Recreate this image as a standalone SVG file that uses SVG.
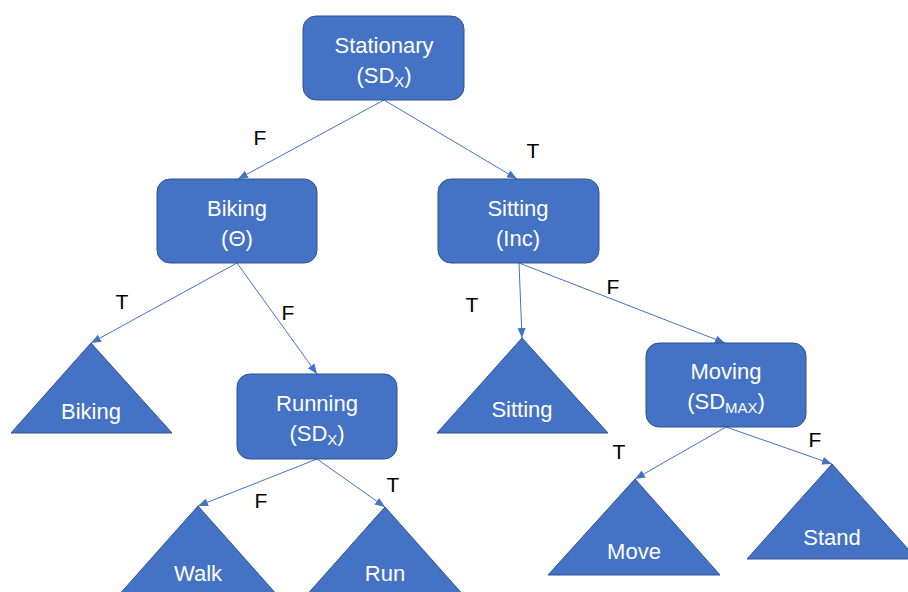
<svg xmlns="http://www.w3.org/2000/svg" width="908" height="592" viewBox="0 0 908 592">
<style>
.box{fill:#4472C4;stroke:#2F528F;stroke-width:1}
.tri{fill:#4472C4;stroke:#2F528F;stroke-width:1}
.nt{fill:#FFFFFF;font-family:"Liberation Sans",Arial,sans-serif;font-size:22px;text-anchor:middle}
.lb{fill:#000000;font-family:"Liberation Sans",Arial,sans-serif;font-size:21px;text-anchor:middle}
.sub{font-size:15px}
.edge{stroke:#4472C4;stroke-width:1;fill:none;marker-end:url(#arr)}
</style>
<defs>
<marker id="arr" markerUnits="userSpaceOnUse" markerWidth="10" markerHeight="10" viewBox="0 0 10 10" refX="10" refY="5" orient="auto">
<path d="M0,1 L10,5 L0,9 Z" fill="#4472C4"/>
</marker>
</defs>
<rect width="908" height="592" fill="#FFFFFF"/>
<g id="connectors">
<line class="edge" x1="384" y1="100" x2="238" y2="179"/>
<line class="edge" x1="384" y1="100" x2="517" y2="179"/>
<line class="edge" x1="237" y1="263" x2="91" y2="343"/>
<line class="edge" x1="237" y1="263" x2="317" y2="374"/>
<line class="edge" x1="519" y1="263" x2="522" y2="338"/>
<line class="edge" x1="519" y1="263" x2="725" y2="343"/>
<line class="edge" x1="317" y1="459" x2="198" y2="506"/>
<line class="edge" x1="317" y1="459" x2="385" y2="507"/>
<line class="edge" x1="726" y1="427" x2="635" y2="479"/>
<line class="edge" x1="726" y1="427" x2="832" y2="464"/>
</g>
<g id="edge-labels">
<text class="lb" x="260" y="145">F</text>
<text class="lb" x="533" y="158">T</text>
<text class="lb" x="122" y="309">T</text>
<text class="lb" x="288" y="320">F</text>
<text class="lb" x="472" y="312">T</text>
<text class="lb" x="613" y="294">F</text>
<text class="lb" x="261" y="508">F</text>
<text class="lb" x="393" y="492">T</text>
<text class="lb" x="619" y="459">T</text>
<text class="lb" x="815" y="447">F</text>
</g>
<g id="stationary">
<rect class="box" x="303" y="16" width="161" height="84" rx="13"/>
<text class="nt" x="384" y="53">Stationary</text>
<text class="nt" x="384" y="83">(SD<tspan class="sub" dy="4">X</tspan><tspan dy="-4">)</tspan></text>
</g>
<g id="biking">
<rect class="box" x="157" y="179" width="160" height="84" rx="13"/>
<text class="nt" x="237" y="216">Biking</text>
<text class="nt" x="237" y="246">(Θ)</text>
</g>
<g id="sitting">
<rect class="box" x="438" y="179" width="161" height="84" rx="13"/>
<text class="nt" x="518" y="216">Sitting</text>
<text class="nt" x="518" y="246">(Inc)</text>
</g>
<g id="biking-leaf">
<polygon class="tri" points="91,343 11,433 172,433"/>
<text class="nt" x="91" y="419">Biking</text>
</g>
<g id="running">
<rect class="box" x="237" y="374" width="160" height="85" rx="13"/>
<text class="nt" x="317" y="411">Running</text>
<text class="nt" x="317" y="441">(SD<tspan class="sub" dy="4">X</tspan><tspan dy="-4">)</tspan></text>
</g>
<g id="sitting-leaf">
<polygon class="tri" points="522,338 437,433 608,433"/>
<text class="nt" x="522" y="417">Sitting</text>
</g>
<g id="moving">
<rect class="box" x="646" y="343" width="160" height="84" rx="13"/>
<text class="nt" x="726" y="379">Moving</text>
<text class="nt" x="726" y="409">(SD<tspan class="sub" dy="4">MAX</tspan><tspan dy="-4">)</tspan></text>
</g>
<g id="walk-leaf">
<polygon class="tri" points="198,506 118,596 278,596"/>
<text class="nt" x="198" y="581">Walk</text>
</g>
<g id="run-leaf">
<polygon class="tri" points="385,507 305,597 465,597"/>
<text class="nt" x="385" y="581">Run</text>
</g>
<g id="move-leaf">
<polygon class="tri" points="635,479 548,575 720,575"/>
<text class="nt" x="634" y="559">Move</text>
</g>
<g id="stand-leaf">
<polygon class="tri" points="832,464 747,559 917,559"/>
<text class="nt" x="832" y="545">Stand</text>
</g>
</svg>
